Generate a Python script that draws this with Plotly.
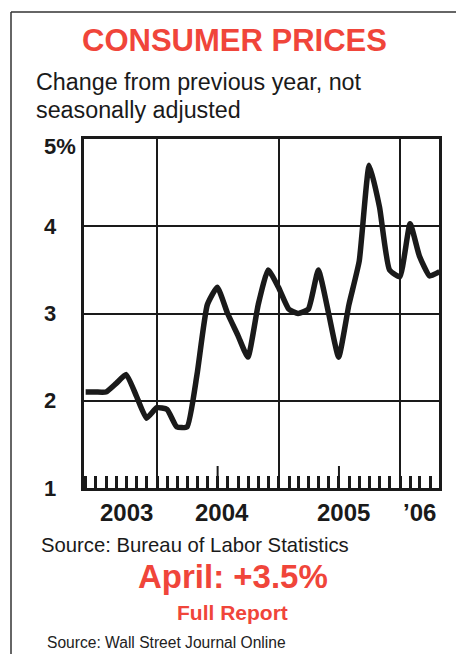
import pandas as pd
import plotly.graph_objects as go

# ---------------- data ----------------
start_month = "2003-05-31"
cpi_change = [2.1, 2.1, 2.1, 2.2, 2.3, 2.05, 1.8, 1.92,
              1.9, 1.7, 1.7, 2.3, 3.1, 3.3, 3.0, 2.75, 2.5, 3.1, 3.5, 3.3,
              3.05, 3.0, 3.05, 3.5, 3.0, 2.5, 3.1, 3.6, 4.7, 4.22, 3.5, 3.42,
              4.03, 3.66, 3.43, 3.48]
months = pd.date_range(start_month, periods=len(cpi_change), freq=pd.offsets.MonthEnd())

year_starts = ["2004-01-01", "2005-01-01", "2006-01-01"]
mid_year_ticks = ["2004-07-01", "2005-07-01"]
year_label_pos = ["2003-10-01", "2004-07-15", "2005-07-15", "2006-02-27"]
year_labels = ["2003", "2004", "2005", "\u201906"]
y_ticks = [1, 2, 3, 4, 5]
y_tick_labels = ["1", "2", "3", "4", "5%"]
x_range = ["2003-05-26", "2006-04-28"]

title = "CONSUMER PRICES"
subtitle_lines = ["Change from previous year, not", "seasonally adjusted"]
source1 = "Source: Bureau of Labor Statistics"
headline = "April: +3.5%"
link_text = "Full Report"
source2 = "Source: Wall Street Journal Online"

# ---------------- layout geometry (pixels) ----------------
FW, FH = 456, 654
L, T, W, H = 84, 139, 355, 349
INK = "#1a1a1a"
RED = "#f0453a"
FONT = "Liberation Sans, Arial, sans-serif"


def px_x(p):
    return (p - L) / W


def px_y(p):
    return (T + H - p) / H


fig = go.Figure()
fig.add_trace(go.Scatter(
    x=months, y=cpi_change, mode="lines",
    line=dict(color=INK, width=5.5, shape="spline", smoothing=0.45),
    hoverinfo="skip", showlegend=False,
))

# tall mid-year ticks
for d in mid_year_ticks:
    fig.add_shape(type="line", xref="x", yref="paper", x0=d, x1=d,
                  y0=0, y1=22 / H, line=dict(color=INK, width=2))

# outer border (left and top)
fig.add_shape(type="line", xref="paper", yref="paper",
              x0=px_x(11), x1=px_x(11), y0=px_y(12), y1=px_y(FH + 5),
              line=dict(color="#333333", width=1.5))
fig.add_shape(type="line", xref="paper", yref="paper",
              x0=px_x(11), x1=px_x(FW + 5), y0=px_y(12), y1=px_y(12),
              line=dict(color="#333333", width=1.5))

ann = []
ann.append(dict(text=f"<b>{title}</b>", x=px_x(234), y=px_y(41), xref="paper", yref="paper",
                xanchor="center", yanchor="middle", showarrow=False,
                font=dict(family=FONT, size=31, color=RED)))
ann.append(dict(text=subtitle_lines[0], x=px_x(34), y=px_y(81.5), xref="paper", yref="paper",
                xanchor="left", yanchor="middle", showarrow=False,
                font=dict(family=FONT, size=23.3, color=INK)))
ann.append(dict(text=subtitle_lines[1], x=px_x(34), y=px_y(109.5), xref="paper", yref="paper",
                xanchor="left", yanchor="middle", showarrow=False,
                font=dict(family=FONT, size=23.3, color=INK)))
for v, t in zip(y_ticks, y_tick_labels):
    ann.append(dict(text=f"<b>{t}</b>", x=px_x(42), y=v, xref="paper", yref="y",
                    xanchor="left", yanchor="middle", showarrow=False,
                    yshift=-7 if v == max(y_ticks) else 0,
                    font=dict(family=FONT, size=22, color=INK)))
for d, t in zip(year_label_pos, year_labels):
    ann.append(dict(text=f"<b>{t}</b>", x=d, y=px_y(512.5), xref="x", yref="paper",
                    xanchor="center", yanchor="middle", showarrow=False,
                    font=dict(family=FONT, size=24, color=INK)))
ann.append(dict(text=source1, x=px_x(39), y=px_y(544.5), xref="paper", yref="paper",
                xanchor="left", yanchor="middle", showarrow=False,
                font=dict(family=FONT, size=20.3, color=INK)))
ann.append(dict(text=f"<b>{headline}</b>", x=px_x(232.5), y=px_y(576.5), xref="paper", yref="paper",
                xanchor="center", yanchor="middle", showarrow=False,
                font=dict(family=FONT, size=33, color=RED)))
ann.append(dict(text=f"<b>{link_text}</b>", x=px_x(232.5), y=px_y(612.5), xref="paper", yref="paper",
                xanchor="center", yanchor="middle", showarrow=False,
                font=dict(family=FONT, size=21, color=RED)))
ann.append(dict(text=source2, x=px_x(45), y=px_y(642.3), xref="paper", yref="paper",
                xanchor="left", yanchor="middle", showarrow=False,
                font=dict(family=FONT, size=15.6, color="#222222")))

fig.update_layout(
    width=FW, height=FH,
    margin=dict(l=L, r=FW - L - W, t=T, b=FH - T - H, pad=0),
    paper_bgcolor="white", plot_bgcolor="white",
    annotations=ann,
    xaxis=dict(type="date", range=x_range, tickmode="array", tickvals=year_starts,
               showticklabels=False, ticks="", showgrid=True, gridcolor=INK, gridwidth=2,
               showline=True, linecolor=INK, linewidth=2.5, mirror=True, zeroline=False,
               minor=dict(dtick="M1", tick0="2003-01-01", ticks="inside", ticklen=12,
                          tickwidth=2.5, tickcolor=INK, showgrid=False),
               fixedrange=True),
    yaxis=dict(range=[min(y_ticks), max(y_ticks)], tickmode="array", tickvals=y_ticks,
               showticklabels=False, ticks="", showgrid=True, gridcolor=INK, gridwidth=2,
               showline=True, linecolor=INK, linewidth=2.5, mirror=True, zeroline=False,
               fixedrange=True),
)

fig.write_html("out.html")
